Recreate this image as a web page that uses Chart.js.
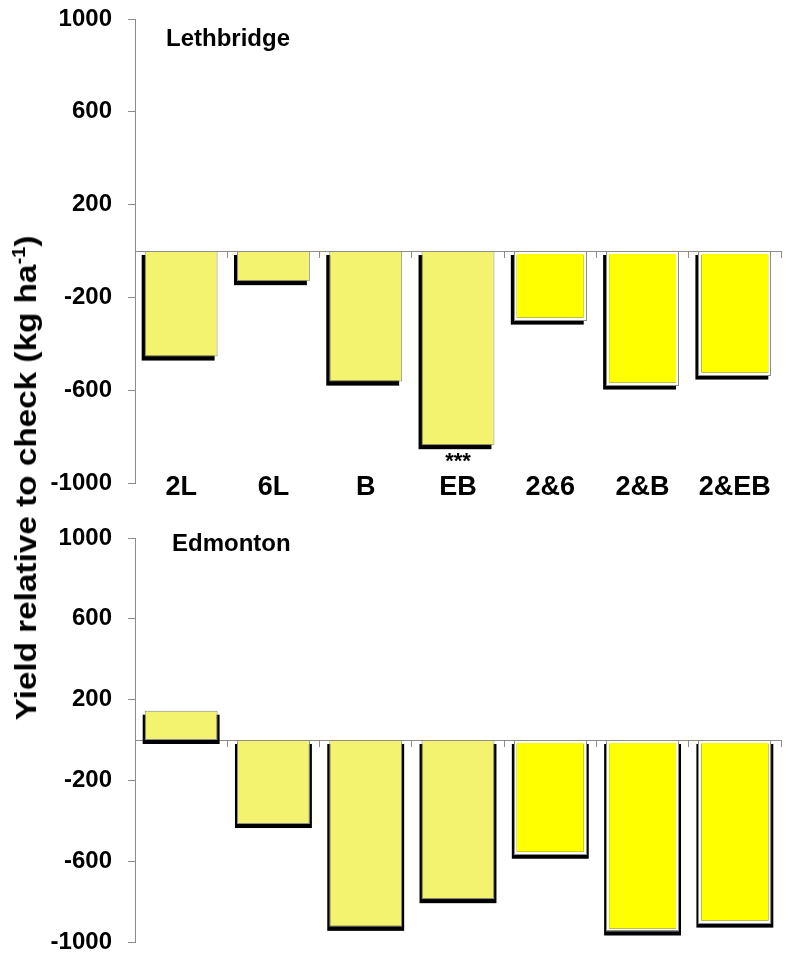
<!DOCTYPE html>
<html>
<head>
<meta charset="utf-8">
<title>Yield relative to check</title>
<script src="https://cdn.jsdelivr.net/npm/chart.js@4/dist/chart.umd.min.js"></script>
<style>
  html, body { margin: 0; padding: 0; background: #ffffff; }
  #wrap { position: relative; width: 788px; height: 953px; overflow: hidden;
          font-family: "Liberation Sans", Arial, sans-serif; }
  .panel { position: absolute; left: 0; width: 788px; }
  #topPanel { top: 0; height: 515px; }
  #botPanel { top: 515px; height: 438px; }
  #ytitle { position: absolute; left: 26px; top: 478px; white-space: nowrap;
            font-weight: bold; font-size: 30px; line-height: 1; color: #000;
            transform: translate(-50%, -50%) rotate(-90deg) scaleX(1.11); }
  #ytitle sup { font-size: 0.6em; line-height: 0; }
</style>
</head>
<body>
<div id="wrap">
  <div class="panel" id="topPanel"><canvas id="lethCanvas" width="788" height="515"></canvas></div>
  <div class="panel" id="botPanel"><canvas id="edmCanvas" width="788" height="438"></canvas></div>
  <div id="ytitle">Yield relative to check (kg ha<sup>-1</sup>)</div>
</div>
<script>
// Treatments and yield difference from the check (kg/ha)
const categories = ['2L', '6L', 'B', 'EB', '2&6', '2&B', '2&EB'];
const lethbridgeYield = [-455, -130, -563, -837, -300, -580, -537];
const edmontonYield = [145, -416, -925, -788, -568, -948, -909];
const lethbridgeSignif = ['', '', '', '***', '', '', ''];
const edmontonSignif = ['', '', '', '', '', '', ''];
const yTicks = [-1000, -600, -200, 200, 600, 1000];

// single treatments pale, combinations bright with a white inner rim
const PALE = '#F3F36F';
const BRIGHT = '#FFFF00';
const GREY = '#8c8c8c';
const FONT = '"Liberation Sans", Arial, sans-serif';
const isCombo = categories.map(c => c.includes('&'));

// Drop shadow behind each bar, grey outline for combination bars,
// significance stars under bars, and the site name inside the plot
const barDecor = {
  id: 'barDecor',
  beforeDatasetsDraw(chart, args, opts) {
    const ctx = chart.ctx;
    const meta = chart.getDatasetMeta(0);
    ctx.save();
    ctx.fillStyle = '#000';
    meta.data.forEach(bar => {
      const p = bar.getProps(['x', 'y', 'base', 'width'], true);
      const top = Math.min(p.y, p.base), bottom = Math.max(p.y, p.base);
      ctx.fillRect(p.x - p.width / 2 + opts.dx - opts.grow, top + opts.dy,
                   p.width + 2 * opts.grow, bottom - top);
    });
    ctx.restore();
  },
  afterDatasetsDraw(chart, args, opts) {
    const ctx = chart.ctx;
    const meta = chart.getDatasetMeta(0);
    ctx.save();
    ctx.strokeStyle = GREY;
    ctx.lineWidth = 1;
    meta.data.forEach((bar, i) => {
      const p = bar.getProps(['x', 'y', 'base', 'width'], true);
      const top = Math.min(p.y, p.base), bottom = Math.max(p.y, p.base);
      if (isCombo[i]) {
        ctx.strokeRect(Math.round(p.x - p.width / 2) + 0.5, Math.round(top) + 0.5,
                       Math.round(p.width) - 1, Math.round(bottom - top) - 1);
      }
      const mark = opts.signif[i];
      if (mark) {
        ctx.fillStyle = '#000';
        ctx.font = 'bold 22px ' + FONT;
        ctx.textAlign = 'center';
        ctx.textBaseline = 'alphabetic';
        ctx.fillText(mark, p.x, bottom + 23);
      }
    });
    const area = chart.chartArea;
    ctx.fillStyle = '#000';
    ctx.font = 'bold 24px ' + FONT;
    ctx.textAlign = 'left';
    ctx.textBaseline = 'alphabetic';
    ctx.fillText(opts.site, area.left + opts.siteDx, area.top + opts.siteDy);
    ctx.restore();
  }
};

// value axis: fixed width, no extra room reserved above/below for labels
function yScale() {
  return {
    min: -1000, max: 1000,
    afterBuildTicks: s => { s.ticks = yTicks.map(v => ({ value: v })); },
    afterFit: s => { s.width = 135; s.paddingTop = 0; s.paddingBottom = 0; },
    grid: { drawOnChartArea: false, drawTicks: true, tickLength: 7, color: GREY },
    border: { color: GREY, width: 1 },
    ticks: { padding: 16, color: '#000', callback: v => String(v),
             font: { family: FONT, size: 24, weight: 'bold', lineHeight: 0.9 } }
  };
}

// category axis running along the zero line; takes no layout space
function zeroAxis() {
  return {
    type: 'category', position: { y: 0 }, offset: true,
    grid: { offset: true, drawOnChartArea: false, drawTicks: true, tickLength: 6, color: GREY },
    border: { color: GREY, width: 1 },
    ticks: { display: false, autoSkip: false },
    afterFit: s => { s.height = 0; }
  };
}

function dataset(values) {
  return {
    data: values,
    xAxisID: 'x', yAxisID: 'y',
    backgroundColor: categories.map((c, i) => isCombo[i] ? BRIGHT : PALE),
    borderColor: categories.map((c, i) => isCombo[i] ? '#ffffff' : GREY),
    borderWidth: categories.map((c, i) => isCombo[i] ? 3 : 1),
    borderSkipped: false,
    categoryPercentage: 1.0,
    barPercentage: 0.79
  };
}

const common = {
  responsive: false,
  maintainAspectRatio: false,
  animation: false,
  events: []
};

// Lethbridge panel (with treatment labels underneath)
new Chart(document.getElementById('lethCanvas'), {
  type: 'bar',
  data: { labels: categories, datasets: [dataset(lethbridgeYield)] },
  plugins: [barDecor],
  options: Object.assign({}, common, {
    layout: { padding: { top: 19, right: 7, bottom: 0, left: 0 } },
    plugins: {
      legend: { display: false }, tooltip: { enabled: false },
      barDecor: { dx: -3, dy: 4, grow: 0, signif: lethbridgeSignif,
                  site: 'Lethbridge', siteDx: 31, siteDy: 27 }
    },
    scales: {
      x: zeroAxis(),
      x2: {
        type: 'category', labels: categories, position: 'bottom', offset: true,
        grid: { display: false, drawTicks: false },
        border: { display: false },
        ticks: { mirror: true, padding: -21, color: '#000', autoSkip: false, maxRotation: 0,
                 font: { family: FONT, size: 27, weight: 'bold' } },
        afterFit: s => { s.height = 32; }
      },
      y: yScale()
    }
  })
});

// Edmonton panel
new Chart(document.getElementById('edmCanvas'), {
  type: 'bar',
  data: { labels: categories, datasets: [dataset(edmontonYield)] },
  plugins: [barDecor],
  options: Object.assign({}, common, {
    layout: { padding: { top: 23, right: 7, bottom: 11, left: 0 } },
    plugins: {
      legend: { display: false }, tooltip: { enabled: false },
      barDecor: { dx: 0, dy: 4, grow: 2, signif: edmontonSignif,
                  site: 'Edmonton', siteDx: 37, siteDy: 13 }
    },
    scales: {
      x: zeroAxis(),
      y: yScale()
    }
  })
});
</script>
</body>
</html>
